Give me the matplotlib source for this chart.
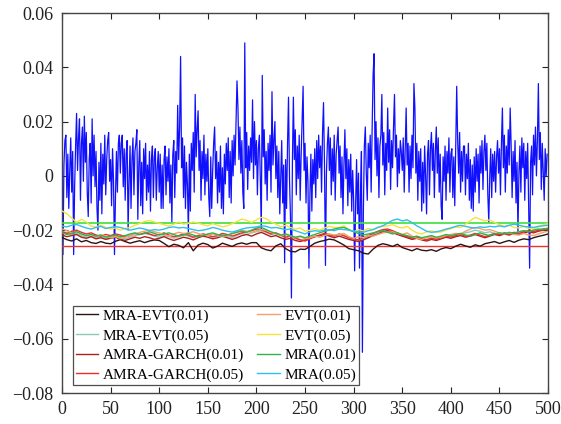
import matplotlib
matplotlib.use("Agg")
import matplotlib.pyplot as plt
import numpy as np

# daily returns (in units of 0.001), t = 0..499
returns_milli = [
    10, -29, 4, 13, 15, -8, 8, -12, 2, 14, -6, 9, -29, -4, 11, 23, 2, 14, 21, -9,
    12, 18, -2, 22, 5, 16, -6, -15, 6, 12, -10, 21, 0, 15, -4, 9, -12, -20, 5, -9,
    12, -14, 8, -3, 15, -7, 6, 13, 16, -2,
    6, -11, 10, -2, -29, -8, 9, -6, 12, 15, 1, 12, 15, -4, 10, -9, 8, 13, -20, -2,
    11, -12, 6, 14, -7, 9, 12, 17, -16, 4, 13, -11, 5, -14, 10, -1, 12, -9, 4, -6,
    9, -13, 6, 11, -8, 7, 10, -9, 3, 9,
    -6, 8, -12, 4, -12, 6, 11, -7, 7, -2, 10, -10, 4, -17, 8, 13, -8, 9, 1, 26,
    6, 18, 44, 3, 14, -8, 11, -12, 5, -3, -21, 8, -13, 12, 2, 16, -6, 30, 7, 17,
    24, 2, 13, -9, 9, -1, 15, -7, 8, -2,
    10, -8, -15, 7, -12, 2, 12, 18, -1, 9, -10, 5, -6, 11, -12, 3, -14, 8, -3, 12,
    2, 14, -8, 9, -10, 13, 0, 15, 4, 20, 35, 25, 6, 18, 1, 13, -6, -12, 49, 3,
    16, -5, 11, 2, 14, 5, 28, -1, 20, 4,
    13, -7, 10, 15, -1, -20, 37, 7, 17, -3, 9, -9, 12, 2, 15, -6, 31, 4, 13, 20,
    -1, 11, -8, 9, -14, 0, 13, -10, 4, -32, 6, -12, 12, 29, -1, -15, -45, 5, 29, 6,
    17, -7, 11, -1, 15, -9, 8, 21, 33, 2,
    12, -10, 7, -2, -34, -7, 8, -13, 6, -3, 10, -8, 13, -1, 15, 3, 11, -6, 16, 27,
    4, -33, 1, 12, 18, 2, 14, -7, 10, -2, 15, -9, 8, 13, 18, 1, 11, -8, 7, -14,
    4, 17, -1, 10, -11, 6, -6, 8, -13, 2,
    -9, -35, -11, 6, -14, 1, -34, -7, 9, -65, -13, 11, 18, 1, -9, 12, 3, 15, -6, 17,
    37, 45, 6, 20, 0, 14, -8, 11, 15, 30, 4, 16, -7, 12, 2, 25, 5, 17, -5, 13,
    3, 18, 30, 7, 15, -4, 10, 1, 13, 9,
    2, 14, -6, 9, 25, 4, 12, -6, 11, -1, 15, 3, 34, 25, 1, 12, -9, 9, -2, 10,
    -13, 5, -10, 11, 0, -14, 8, 13, -7, 10, 16, 2, 12, -8, 9, 18, 1, 14, -6, 8,
    -11, -16, 7, -2, 11, -9, 9, 1, 14, -6,
    8, 10, -8, 7, -11, 10, 33, 13, 1, 16, -6, 9, -2, 11, 11, -7, 8, -1, 12, -9,
    6, -12, 4, -13, 7, -6, 10, -2, 8, -10, 11, 1, 13, -5, 9, 15, 2, 12, -7, -17,
    0, 10, -8, 8, -2, 9, -6, 7, 13, 1,
    10, -7, 12, 25, 3, 15, -6, 11, 1, 17, 4, 25, 11, -8, 9, -2, 13, -10, 5, -21,
    1, 11, -6, 14, 3, 12, -9, 9, -1, 12, -11, -34, 5, 11, -7, 15, 4, 18, 0, 13,
    34, 6, 16, -5, 12, 2, -9, 10, 0, 8,
]

# VaR estimates (units of 0.001), sampled every 5 days, t = 0..500
mra_evt_01 = [
    -22.7, -23.5, -24.0, -23.2, -24.3, -23.8, -24.6, -24.9, -24.2, -24.8,
    -25.0, -24.1, -23.5, -24.2, -24.8, -24.3, -23.9, -24.6, -24.0, -23.6,
    -23.8, -24.9, -26.1, -25.2, -25.6, -26.5, -24.6, -27.6, -25.5, -24.8,
    -25.3, -26.6, -25.9, -24.8, -25.4, -26.0, -25.1, -24.7, -25.2, -24.6,
    -24.6, -26.5, -27.2, -27.6, -25.8, -25.0, -26.8, -27.8, -28.0, -27.0,
    -27.1, -26.0, -24.8, -24.2, -23.8, -23.3, -23.6, -24.5, -25.5, -26.8,
    -27.2, -27.6, -28.5, -28.8, -27.0, -25.6, -25.0, -25.4, -26.0, -25.2,
    -26.4, -27.0, -27.6, -26.8, -27.4, -27.6, -27.2, -27.8, -26.9, -26.4,
    -26.8, -25.9, -25.2, -25.8, -26.3, -25.4, -25.9, -25.0, -24.6, -24.2,
    -24.9, -24.3, -23.8, -24.5, -23.7, -23.2, -23.5, -22.8, -22.3, -21.9,
    -21.4,
]
mra_evt_05 = [
    -20.4, -21.0, -21.8, -21.2, -22.0, -22.6, -22.2, -22.8, -22.4, -23.0,
    -22.6, -22.2, -22.8, -23.2, -22.6, -22.0, -21.6, -21.2, -21.6, -22.2,
    -22.6, -22.0, -22.4, -23.0, -22.4, -21.8, -22.2, -22.8, -22.2, -21.6,
    -22.0, -22.6, -22.2, -21.6, -22.2, -22.8, -22.0, -21.2, -21.6, -21.0,
    -20.6, -20.2, -20.8, -21.6, -21.2, -22.0, -22.6, -22.2, -23.0, -23.4,
    -23.8, -23.0, -22.4, -22.0, -21.4, -21.8, -22.2, -21.6, -22.2, -22.8,
    -23.4, -23.8, -23.2, -22.4, -21.6, -21.0, -20.4, -20.0, -20.4, -21.2,
    -21.8, -22.4, -23.0, -22.6, -23.2, -23.4, -22.8, -23.2, -22.6, -22.0,
    -22.4, -21.8, -21.4, -21.0, -20.6, -20.0, -20.4, -21.0, -20.6, -21.2,
    -21.6, -21.0, -21.4, -21.0, -20.6, -20.2, -20.6, -20.2, -19.8, -19.6,
    -19.2,
]
amra_garch_01 = [
    -21.8, -22.4, -22.0, -21.6, -22.6, -23.0, -22.4, -23.2, -22.8, -23.4,
    -23.0, -22.6, -23.4, -23.8, -23.2, -22.6, -23.0, -22.4, -22.8, -23.4,
    -23.0, -22.4, -23.2, -23.8, -23.2, -22.6, -23.0, -23.6, -22.8, -22.2,
    -22.6, -23.2, -22.8, -22.2, -22.8, -23.4, -22.8, -22.0, -21.6, -22.2,
    -21.4, -20.8, -21.6, -22.4, -22.0, -22.8, -23.4, -23.0, -23.8, -24.2,
    -23.6, -22.8, -22.4, -22.0, -21.6, -22.2, -22.8, -22.2, -22.8, -23.4,
    -23.8, -24.2, -23.6, -22.8, -22.0, -21.4, -20.6, -20.2, -20.8, -21.6,
    -22.2, -22.8, -23.4, -23.0, -23.6, -24.0, -23.4, -23.8, -23.2, -22.6,
    -23.0, -22.4, -22.0, -22.6, -22.2, -21.6, -22.2, -22.8, -22.2, -21.6,
    -22.0, -21.4, -21.8, -21.2, -21.6, -21.0, -20.6, -21.0, -20.4, -20.0,
    -19.8,
]
amra_garch_05 = [
    -20.6, -21.2, -20.4, -20.0, -20.8, -21.4, -21.0, -21.8, -22.2, -21.6,
    -22.0, -21.4, -21.8, -22.4, -22.0, -21.2, -21.6, -21.0, -21.4, -22.0,
    -21.6, -21.0, -21.8, -22.4, -22.0, -21.4, -21.8, -22.6, -22.0, -21.4,
    -21.8, -22.4, -22.0, -21.2, -21.6, -22.2, -21.6, -21.0, -20.6, -20.2,
    -19.6, -19.8, -20.6, -21.4, -21.0, -21.8, -22.6, -22.2, -23.0, -23.6,
    -24.0, -23.2, -22.4, -21.8, -21.2, -21.6, -22.2, -21.4, -22.0, -22.8,
    -23.2, -23.6, -22.8, -22.0, -21.2, -20.4, -19.8, -19.6, -20.2, -21.0,
    -21.8, -22.4, -23.0, -22.6, -23.2, -23.6, -23.0, -23.4, -22.8, -22.2,
    -22.6, -22.0, -21.6, -22.2, -21.8, -21.2, -21.8, -22.4, -21.8, -21.2,
    -21.6, -21.0, -21.4, -20.8, -21.2, -20.6, -20.2, -20.6, -20.0, -19.6,
    -19.4,
]
evt_01 = [
    -19.5, -20.2, -21.0, -20.5, -21.4, -22.0, -21.6, -22.4, -21.8, -22.2,
    -22.8, -22.4, -23.0, -22.6, -22.0, -21.4, -20.8, -20.4, -20.0, -20.6,
    -21.0, -21.6, -22.2, -21.4, -20.8, -21.2, -21.0, -20.6, -21.2, -21.8,
    -22.0, -21.4, -21.8, -22.4, -22.0, -21.4, -20.6, -20.0, -20.4, -20.8,
    -20.2, -19.8, -20.0, -20.8, -21.4, -22.0, -21.6, -22.2, -22.8, -22.4,
    -23.2, -22.8, -22.2, -22.6, -22.0, -21.4, -21.8, -21.6, -21.2, -22.4,
    -23.0, -22.4, -22.8, -22.0, -22.2, -21.6, -21.0, -20.8, -20.6, -21.2,
    -21.6, -21.0, -22.2, -23.0, -23.4, -22.8, -22.4, -22.8, -22.6, -22.0,
    -21.6, -21.2, -21.4, -20.4, -19.6, -19.0, -19.4, -20.0, -19.8, -20.4,
    -21.0, -21.4, -21.0, -21.6, -21.8, -21.2, -21.8, -22.0, -21.4, -20.8,
    -20.4,
]
evt_05 = [
    -12.9, -14.0, -15.5, -17.2, -16.0, -17.0, -18.5, -18.8, -18.2, -19.0,
    -19.6, -19.2, -20.0, -19.4, -19.0, -18.2, -17.5, -16.8, -16.5, -17.0,
    -17.5, -18.0, -18.5, -17.8, -17.0, -17.8, -17.5, -17.0, -17.4, -18.0,
    -18.4, -17.6, -18.2, -18.8, -18.4, -17.6, -16.8, -15.9, -16.4, -17.2,
    -16.2, -15.3, -15.8, -17.0, -17.8, -18.8, -18.2, -19.0, -19.6, -19.2,
    -20.4, -20.0, -19.4, -20.0, -19.2, -18.6, -19.0, -19.0, -18.4, -19.8,
    -20.6, -19.8, -20.3, -19.4, -19.8, -18.9, -18.6, -18.4, -18.0, -18.8,
    -19.2, -18.6, -20.0, -21.0, -21.4, -20.6, -20.2, -20.8, -20.7, -20.0,
    -19.4, -18.8, -19.0, -17.8, -16.5, -15.3, -16.0, -16.6, -16.2, -17.2,
    -18.0, -18.6, -18.2, -19.0, -19.2, -18.6, -19.4, -19.6, -18.8, -18.0,
    -17.6,
]
mra_01 = [
    -21.0, -21.6, -21.2, -20.6, -21.4, -22.0, -21.6, -22.2, -21.8, -22.6,
    -22.2, -21.8, -22.4, -22.0, -21.4, -21.0, -21.6, -21.2, -20.6, -21.2,
    -21.8, -21.4, -21.0, -21.6, -22.2, -21.8, -21.2, -21.8, -22.4, -22.0,
    -21.4, -21.0, -21.6, -22.2, -21.8, -21.2, -20.8, -20.4, -20.8, -20.0,
    -19.2, -19.0, -19.8, -20.6, -21.2, -21.8, -21.4, -22.0, -22.6, -22.2,
    -22.8, -22.2, -21.6, -21.0, -20.4, -20.0, -19.6, -19.2, -19.0, -19.8,
    -20.6, -21.2, -21.8, -21.4, -21.0, -20.6, -20.2, -20.8, -21.4, -21.0,
    -21.6, -22.0, -22.6, -22.2, -22.8, -22.4, -22.0, -22.6, -22.2, -21.6,
    -22.0, -21.6, -21.2, -21.8, -22.2, -21.6, -21.0, -21.6, -22.0, -21.4,
    -21.0, -21.4, -20.8, -21.2, -20.6, -20.2, -20.6, -20.0, -19.6, -19.8,
    -19.4,
]
mra_05 = [
    -18.5, -18.8, -18.2, -17.9, -18.6, -19.2, -19.6, -19.0, -18.6, -19.4,
    -19.0, -18.7, -19.0, -19.5, -20.0, -19.6, -19.2, -19.6, -20.2, -19.8,
    -20.0, -19.6, -19.0, -18.8, -19.2, -19.0, -19.4, -19.8, -20.2, -20.0,
    -19.6, -19.0, -19.4, -20.0, -20.4, -20.7, -20.2, -19.6, -19.2, -19.0,
    -18.8, -18.4, -18.6, -19.2, -19.0, -19.4, -19.8, -19.6, -20.2, -20.8,
    -21.4, -20.6, -20.2, -20.4, -20.0, -19.8, -20.2, -19.6, -19.8, -20.0,
    -20.4, -20.6, -20.8, -20.2, -19.8, -19.0, -18.4, -17.4, -16.4, -15.9,
    -16.6, -16.2, -17.2, -18.4, -19.4, -20.4, -20.8, -20.6, -20.2, -19.6,
    -19.2, -18.6, -18.2, -18.6, -19.0, -19.2, -18.8, -19.0, -18.6, -18.8,
    -18.4, -18.8, -18.2, -17.8, -18.2, -18.6, -18.8, -19.0, -18.6, -18.4,
    -18.2,
]
# flat reference levels
flat_green = -0.0172
flat_red = -0.0257

series = [
    ("MRA-EVT(0.01)", mra_evt_01, "#2a1414"),
    ("MRA-EVT(0.05)", mra_evt_05, "#8ec9b8"),
    ("AMRA-GARCH(0.01)", amra_garch_01, "#b01e1e"),
    ("AMRA-GARCH(0.05)", amra_garch_05, "#ee2a2a"),
    ("EVT(0.01)", evt_01, "#f5a06a"),
    ("EVT(0.05)", evt_05, "#f7e23a"),
    ("MRA(0.01)", mra_01, "#2fb34a"),
    ("MRA(0.05)", mra_05, "#2ec0ec"),
]

plt.rcParams["font.family"] = ["Liberation Serif", "DejaVu Serif"]

fig = plt.figure(figsize=(5.61, 4.24), dpi=100)
ax = fig.add_axes([0.1105, 0.0731, 0.8665, 0.8962])

t = np.arange(len(returns_milli))
ax.plot(t, np.array(returns_milli) / 1000, color="#1010ff", lw=0.9, zorder=2)

ax.axhline(flat_green, color="#3ce03c", lw=1.2, zorder=3)
ax.axhline(flat_red, color="#f03030", lw=1.0, zorder=3)

tv = np.arange(0, 501, 5)
for name, vals, col in series:
    ax.plot(tv, np.array(vals) / 1000, color=col, lw=1.0, label=name, zorder=4)

ax.set_xlim(0, 500)
ax.set_ylim(-0.08, 0.06)
ax.set_xticks(np.arange(0, 501, 50))
ax.set_yticks(np.arange(-0.08, 0.061, 0.02))
ax.set_yticklabels(["\u22120.08", "\u22120.06", "\u22120.04", "\u22120.02",
                    "0", "0.02", "0.04", "0.06"])
ax.tick_params(direction="in", top=True, right=True, length=4,
               labelsize=13, colors="#222222", pad=6)
for sp in ax.spines.values():
    sp.set_color("#444444")
    sp.set_linewidth(1.0)

leg = ax.legend(ncol=2, loc="lower left", bbox_to_anchor=(0.022, 0.021),
                borderaxespad=0, fontsize=11, frameon=True, fancybox=False,
                handlelength=1.45, handletextpad=0.3, columnspacing=0.9,
                labelspacing=0.38, borderpad=0.2)
leg.get_frame().set_edgecolor("#222222")
leg.get_frame().set_linewidth(0.9)
leg.set_zorder(10)

fig.savefig("out.png", dpi=100)
